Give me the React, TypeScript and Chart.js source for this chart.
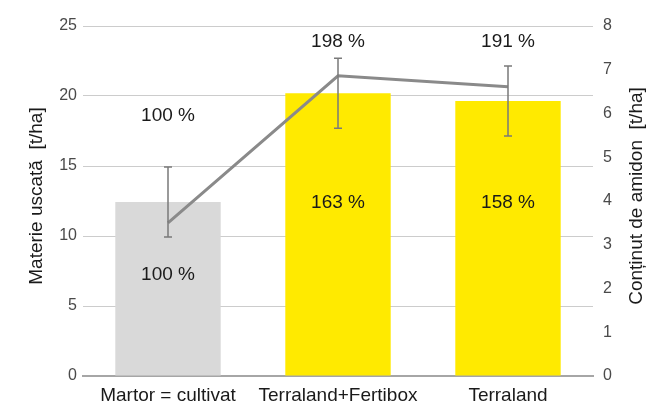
import React, { useEffect, useRef } from "react";
import { Chart, registerables } from "chart.js";

Chart.register(...registerables);

const categories = ["Martor = cultivat", "Terraland+Fertibox", "Terraland"];
const dryMatter = [12.43, 20.2, 19.64];
const dryMatterErr = [2.5, 2.5, 2.5];
const starch = [3.5, 6.86, 6.61];
const barPctLabels = ["100 %", "163 %", "158 %"];
const linePctLabels = ["100 %", "198 %", "191 %"];
const barLabelAt = [7.2, 12.4, 12.4];
const lineLabelAt = [18.6, 23.9, 23.9];
const barColors = ["#d9d9d9", "#ffea00", "#ffea00"];
const leftTitle = "Materie uscată  [t/ha]";
const rightTitle = "Conținut de amidon  [t/ha]";

const FONT = "'Liberation Sans', Arial, Helvetica, sans-serif";

const overlayPlugin = {
  id: "overlay",
  afterDatasetsDraw(chart: any) {
    const ctx = chart.ctx;
    const xs = chart.scales.x;
    const ys = chart.scales.y;
    ctx.save();
    // error bars
    ctx.strokeStyle = "#7a7a7a";
    ctx.lineWidth = 1.5;
    dryMatter.forEach((v, i) => {
      const x = xs.getPixelForValue(i);
      const t = ys.getPixelForValue(v + dryMatterErr[i]);
      const b = ys.getPixelForValue(v - dryMatterErr[i]);
      ctx.beginPath();
      ctx.moveTo(x, t);
      ctx.lineTo(x, b);
      ctx.moveTo(x - 4, t);
      ctx.lineTo(x + 4, t);
      ctx.moveTo(x - 4, b);
      ctx.lineTo(x + 4, b);
      ctx.stroke();
    });
    // labels
    ctx.fillStyle = "#1a1a1a";
    ctx.font = `19px ${FONT}`;
    ctx.textAlign = "center";
    ctx.textBaseline = "middle";
    categories.forEach((_, i) => {
      const x = xs.getPixelForValue(i);
      ctx.fillText(barPctLabels[i], x, ys.getPixelForValue(barLabelAt[i]));
      ctx.fillText(linePctLabels[i], x, ys.getPixelForValue(lineLabelAt[i]));
    });
    // axis titles
    const cy = (chart.chartArea.top + chart.chartArea.bottom) / 2 - 5;
    ctx.save();
    ctx.translate(37, cy);
    ctx.rotate(-Math.PI / 2);
    ctx.fillText(leftTitle, 0, 0);
    ctx.restore();
    ctx.save();
    ctx.translate(637, cy);
    ctx.rotate(-Math.PI / 2);
    ctx.fillText(rightTitle, 0, 0);
    ctx.restore();
    ctx.restore();
  },
};

export default function App() {
  const ref = useRef<HTMLCanvasElement>(null);
  useEffect(() => {
    if (!ref.current) return;
    const chart = new Chart(ref.current, {
      type: "bar",
      data: {
        labels: categories,
        datasets: [
          {
            type: "line",
            data: starch,
            yAxisID: "y2",
            borderColor: "#8a8a8a",
            borderWidth: 3,
            pointRadius: 0,
            order: 0,
          } as any,
          {
            type: "bar",
            data: dryMatter,
            yAxisID: "y",
            backgroundColor: barColors,
            categoryPercentage: 1,
            barPercentage: 0.62,
            order: 1,
          },
        ],
      },
      options: {
        animation: false,
        responsive: false,
        layout: { padding: { top: 26, left: 0, right: 0, bottom: 0 } },
        plugins: { legend: { display: false }, tooltip: { enabled: false } },
        scales: {
          x: {
            grid: { display: false, drawTicks: false },
            border: { display: true, color: "#a6a6a6", width: 2 },
            ticks: { color: "#1a1a1a", font: { family: FONT, size: 19 }, padding: 8 },
            afterFit(s: any) {
              s.height = 29;
            },
          },
          y: {
            position: "left",
            min: 0,
            max: 25,
            ticks: { stepSize: 5, color: "#4a4a4a", font: { family: FONT, size: 16 }, padding: 6 },
            grid: { color: "#cccccc", lineWidth: 1, drawTicks: false },
            border: { display: false },
            afterFit(s: any) {
              s.width = 83;
            },
          },
          y2: {
            position: "right",
            min: 0,
            max: 8,
            ticks: { stepSize: 1, color: "#4a4a4a", font: { family: FONT, size: 16 }, padding: 10 },
            grid: { display: false, drawTicks: false },
            border: { display: false },
            afterFit(s: any) {
              s.width = 66;
            },
          },
        },
      },
      plugins: [overlayPlugin],
    });
    return () => chart.destroy();
  }, []);
  return (
    <div style={{ position: "fixed", left: 0, top: 0, width: 659, height: 405, background: "#fff" }}>
      <canvas ref={ref} width={659} height={405} style={{ width: 659, height: 405 }} />
    </div>
  );
}
